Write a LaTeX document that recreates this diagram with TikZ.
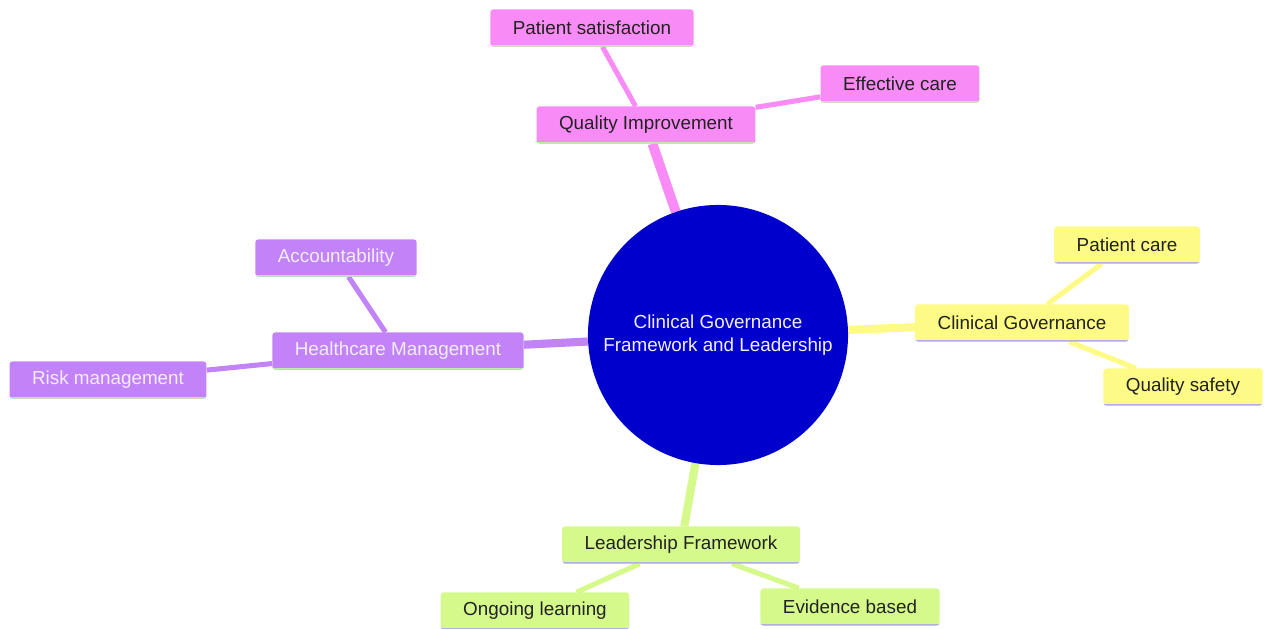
\documentclass[tikz,border=0pt]{standalone}
\usepackage{fontspec}
\setmainfont{Liberation Sans}
\usetikzlibrary{positioning,backgrounds}
\definecolor{hubblue}{HTML}{0000CC}
\definecolor{qipink}{HTML}{F98BF6}
\definecolor{hmpurple}{HTML}{C183F7}
\definecolor{cgyellow}{HTML}{FDFB86}
\definecolor{lfgreen}{HTML}{D5F98A}
\definecolor{edgegreen}{HTML}{B8F0A0}
\definecolor{edgelav}{HTML}{B4AEE6}
\definecolor{darktext}{HTML}{222222}
\definecolor{softwhite}{HTML}{F4ECFF}

\begin{document}
\begin{tikzpicture}[x=0.025cm, y=-0.025cm,
    every node/.style={font=\fontsize{13.4}{16}\selectfont},
    topic/.style={rectangle, rounded corners=2pt, inner xsep=16pt,
      minimum height=0.925cm, text=darktext},
    underline/.style={path picture={\draw[line width=2.2pt, #1]
      (path picture bounding box.south west) -- (path picture bounding box.south east);}},
    pinkbox/.style={topic, fill=qipink, underline=edgegreen},
    purplebox/.style={topic, fill=hmpurple, underline=edgegreen, text=softwhite},
    yellowbox/.style={topic, fill=cgyellow, underline=edgelav},
    greenbox/.style={topic, fill=lfgreen, underline=edgelav},
    hub/.style={circle, fill=hubblue, minimum size=6.5cm, align=center, text=softwhite},
    trunk/.style={line width=5.8pt},
    twig/.style={line width=3.6pt}]
    \useasboundingbox (0,0) rectangle (1264,629);

    % centre
    \node[hub] (hub) at (718,335) {Clinical Governance\\Framework and Leadership};

    % quality improvement branch
    \node[pinkbox] (qi) at (646,125) {Quality Improvement};
    \node[pinkbox] (ps) at (592,28) {Patient satisfaction};
    \node[pinkbox] (ec) at (900,84) {Effective care};

    % healthcare management branch
    \node[purplebox] (hm) at (398,351) {Healthcare Management};
    \node[purplebox] (acc) at (336,258) {Accountability};
    \node[purplebox] (rm) at (108,380) {Risk management};

    % clinical governance branch
    \node[yellowbox] (cg) at (1022,323) {Clinical Governance};
    \node[yellowbox] (pc) at (1127,245) {Patient care};
    \node[yellowbox] (qs) at (1183,387) {Quality safety};

    % leadership framework branch
    \node[greenbox] (lf) at (681,545) {Leadership Framework};
    \node[greenbox] (ol) at (535,611) {Ongoing learning};
    \node[greenbox] (eb) at (850,607) {Evidence based};

    \begin{scope}[on background layer]
      \draw[qipink, line width=7pt] (hub) -- (qi);
      \draw[qipink, twig] (ps) -- (qi);
      \draw[qipink, twig] (ec) -- (qi);
      \draw[hmpurple, trunk] (hub) -- (hm);
      \draw[hmpurple, twig] (acc) -- (hm);
      \draw[hmpurple, twig] (rm) -- (hm);
      \draw[cgyellow, trunk] (hub) -- (cg);
      \draw[cgyellow, twig] (pc) -- (cg);
      \draw[cgyellow, twig] (qs) -- (cg);
      \draw[lfgreen, trunk] (hub) -- (lf);
      \draw[lfgreen, twig] (ol) -- (lf);
      \draw[lfgreen, twig] (eb) -- (lf);
    \end{scope}
  \end{tikzpicture}
\end{document}
